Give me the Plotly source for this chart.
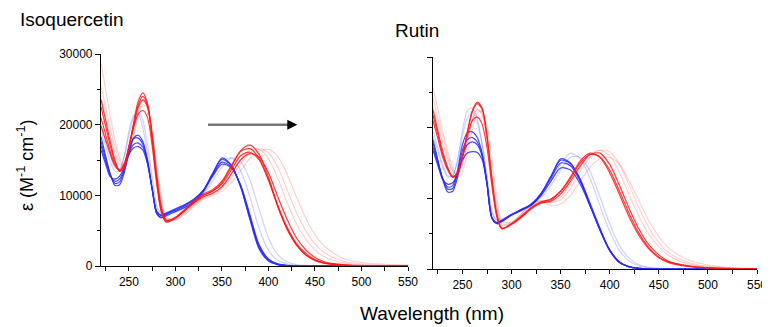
import plotly.graph_objects as go

# Wavelength grid (nm)
wavelength = [220, 225, 230, 235, 240, 245, 250, 255, 260, 265, 270, 275, 280, 285, 290,
              300, 310, 320, 330, 340, 350, 360, 370, 380, 390, 400, 410, 420, 430, 440,
              450, 460, 480, 500, 525, 550]

# Molar absorptivity values in units of 1000 M^-1 cm^-1
# ---- Isoquercetin (left) ----
iso_blue1 = [18.3, 15.6, 13.0, 11.4, 11.5, 13.2, 16.0, 18.1, 18.5, 17.6, 15.0, 11.0, 7.4, 6.8, 7.1,
             7.7, 8.3, 9.1, 10.5, 13.0, 15.3, 14.3, 11.2, 6.6, 2.4, 0.7, 0.2, 0.05, 0, 0, 0, 0, 0, 0, 0, 0]
iso_blue2 = [17.6, 15.2, 12.9, 11.7, 11.9, 13.6, 16.3, 18.0, 18.1, 17.2, 14.8, 10.8, 7.4, 6.9, 7.3,
             7.9, 8.5, 9.3, 10.7, 13.1, 15.1, 14.2, 11.3, 6.8, 2.6, 0.8, 0.2, 0.05, 0, 0, 0, 0, 0, 0, 0, 0]
iso_blue3 = [17.0, 14.8, 12.8, 12.0, 12.3, 13.8, 16.0, 17.2, 17.4, 16.8, 14.6, 10.9, 7.6, 7.1, 7.4,
             8.0, 8.6, 9.4, 10.7, 12.9, 14.7, 14.0, 11.4, 7.0, 2.8, 0.9, 0.25, 0.07, 0, 0, 0, 0, 0, 0, 0, 0]
iso_blue4 = [16.4, 14.4, 12.6, 12.3, 12.7, 14.0, 15.8, 16.7, 16.9, 16.4, 14.4, 10.9, 7.7, 7.2, 7.5,
             8.1, 8.7, 9.5, 10.7, 12.7, 14.4, 13.9, 11.5, 7.3, 3.0, 1.0, 0.3, 0.08, 0, 0, 0, 0, 0, 0, 0, 0]
iso_light1 = [19.2, 17.0, 14.8, 13.4, 13.5, 15.6, 19.0, 21.3, 21.5, 19.5, 15.8, 11.2, 8.0, 7.2, 7.4,
              7.8, 8.3, 9.1, 10.4, 12.6, 14.8, 15.3, 13.5, 9.8, 5.3, 2.2, 0.8, 0.3, 0.1, 0.05, 0, 0, 0, 0, 0, 0]
iso_light2 = [20.0, 17.8, 15.6, 14.0, 13.8, 15.4, 18.5, 21.0, 21.8, 20.6, 17.2, 12.5, 8.6, 7.4, 7.3,
              7.6, 8.2, 9.0, 10.2, 12.0, 14.0, 15.3, 14.8, 12.2, 8.0, 4.0, 1.6, 0.6, 0.2, 0.08, 0.03, 0, 0, 0, 0, 0]
iso_pink1 = [28.7, 25.0, 21.2, 17.8, 15.3, 14.4, 15.6, 18.2, 21.2, 22.8, 22.2, 19.2, 14.2, 9.6, 7.0,
             6.5, 7.3, 8.4, 9.4, 10.0, 10.6, 11.8, 13.5, 15.2, 16.2, 16.5, 15.5, 13.0, 9.8, 6.8,
             4.4, 2.8, 1.1, 0.5, 0.25, 0.15]
iso_pink2 = [25.5, 22.5, 19.4, 16.8, 14.8, 14.2, 15.8, 18.8, 21.8, 23.4, 22.6, 19.0, 13.6, 9.0, 6.8,
             6.6, 7.5, 8.6, 9.6, 10.2, 11.0, 12.5, 14.5, 16.0, 16.6, 16.0, 14.0, 10.8, 7.6, 5.0,
             3.1, 1.9, 0.7, 0.3, 0.12, 0.06]
iso_pink3 = [24.0, 21.2, 18.4, 16.0, 14.4, 14.2, 16.0, 19.2, 22.2, 23.6, 22.6, 18.6, 13.0, 8.6, 6.6,
             6.6, 7.6, 8.7, 9.7, 10.3, 11.3, 13.0, 15.0, 16.4, 16.5, 15.2, 12.4, 9.0, 6.0, 3.8,
             2.3, 1.3, 0.45, 0.18, 0.07, 0.03]
iso_red1 = [23.5, 20.6, 17.6, 15.0, 13.4, 13.8, 16.5, 20.2, 23.3, 24.5, 23.0, 18.0, 11.8, 7.6, 6.2,
            6.8, 7.9, 9.0, 10.0, 10.6, 11.8, 14.0, 16.3, 17.1, 15.8, 12.6, 8.5, 5.3, 3.0, 1.6,
            0.8, 0.4, 0.12, 0.04, 0, 0]
iso_red2 = [22.5, 19.8, 17.0, 14.7, 13.5, 14.2, 16.8, 20.0, 22.8, 24.0, 22.8, 18.2, 12.2, 7.9, 6.4,
            6.9, 8.0, 9.2, 10.2, 10.8, 12.0, 14.2, 16.2, 16.6, 15.2, 12.2, 8.4, 5.2, 3.0, 1.6,
            0.8, 0.4, 0.12, 0.04, 0, 0]
iso_red3 = [21.0, 18.6, 16.2, 14.4, 13.6, 14.5, 17.0, 19.6, 21.5, 22.0, 21.0, 17.0, 11.5, 7.6, 6.3,
            6.8, 7.9, 9.0, 10.0, 10.6, 11.6, 13.6, 15.6, 16.1, 15.0, 12.2, 8.6, 5.5, 3.2, 1.8,
            0.9, 0.45, 0.14, 0.05, 0, 0]
iso_red4 = [19.8, 17.8, 15.8, 14.2, 13.5, 14.4, 16.8, 19.8, 22.5, 23.5, 22.5, 18.5, 12.8, 8.3, 6.5,
            6.8, 7.8, 8.9, 9.8, 10.3, 11.2, 13.0, 15.0, 15.9, 15.4, 13.2, 9.8, 6.6, 4.0, 2.3,
            1.2, 0.6, 0.2, 0.06, 0.02, 0]

# ---- Rutin (right) ----
rut_blue1 = [18.3, 15.4, 12.6, 10.9, 11.0, 13.0, 16.0, 17.6, 18.0, 17.6, 16.0, 12.0, 7.2, 6.4, 6.7,
             7.6, 8.3, 9.0, 10.6, 13.0, 15.6, 15.0, 12.6, 9.0, 5.5, 2.6, 0.9, 0.3, 0.1, 0.03, 0, 0, 0, 0, 0, 0]
rut_blue2 = [16.8, 14.6, 12.6, 12.0, 12.2, 13.4, 15.4, 16.4, 16.6, 16.5, 15.5, 12.0, 7.3, 6.6, 6.9,
             7.7, 8.4, 9.1, 10.4, 12.4, 14.3, 14.0, 12.0, 8.9, 5.6, 2.7, 1.0, 0.3, 0.1, 0.03, 0, 0, 0, 0, 0, 0]
rut_blue3 = [17.2, 15.0, 12.8, 11.6, 11.8, 14.0, 17.6, 19.3, 19.4, 18.6, 16.4, 12.2, 7.2, 6.5, 6.8,
             7.7, 8.4, 9.1, 10.6, 12.8, 15.0, 14.6, 12.4, 9.0, 5.6, 2.6, 0.9, 0.3, 0.1, 0.03, 0, 0, 0, 0, 0, 0]
rut_blue4 = [17.8, 15.2, 12.7, 11.3, 11.4, 13.5, 16.8, 18.3, 18.6, 18.0, 16.2, 12.1, 7.3, 6.5, 6.8,
             7.7, 8.4, 9.2, 10.7, 13.1, 15.4, 14.9, 12.7, 9.3, 5.8, 2.7, 1.0, 0.3, 0.1, 0.03, 0, 0, 0, 0, 0, 0]
rut_light1 = [19.5, 17.2, 14.8, 13.2, 13.2, 15.6, 19.6, 22.4, 22.8, 21.2, 17.8, 13.0, 8.0, 6.8, 6.9,
              7.6, 8.2, 9.0, 10.3, 12.4, 14.8, 16.4, 15.6, 12.8, 9.0, 5.3, 2.6, 1.1, 0.45, 0.18,
              0.07, 0.03, 0, 0, 0, 0]
rut_light2 = [18.8, 16.6, 14.4, 13.0, 13.2, 15.2, 18.8, 21.4, 22.0, 20.8, 17.6, 13.0, 8.2, 7.0, 7.1,
              7.7, 8.3, 9.0, 10.1, 11.8, 14.0, 15.8, 15.8, 13.8, 10.2, 6.4, 3.3, 1.5, 0.6, 0.25,
              0.1, 0.04, 0, 0, 0, 0]
rut_pink1 = [25.6, 22.6, 19.4, 16.6, 14.4, 13.0, 13.8, 16.4, 19.6, 22.0, 22.4, 20.2, 15.4, 10.2, 6.8,
             6.6, 7.8, 9.2, 9.6, 9.0, 9.2, 10.4, 12.4, 14.4, 15.6, 15.8, 14.8, 12.4, 9.6, 6.8,
             4.6, 3.0, 1.3, 0.55, 0.2, 0.08]
rut_pink2 = [24.2, 21.4, 18.6, 16.0, 14.0, 13.4, 14.8, 17.8, 21.0, 22.6, 22.0, 18.8, 13.6, 8.8, 6.4,
             6.6, 7.8, 9.2, 9.7, 9.4, 9.8, 11.4, 13.8, 15.8, 16.8, 16.6, 14.8, 11.8, 8.6, 5.8,
             3.7, 2.3, 0.9, 0.35, 0.12, 0.05]
rut_pink3 = [23.0, 20.4, 17.8, 15.6, 13.8, 13.4, 15.0, 18.0, 21.0, 22.6, 21.8, 18.4, 13.2, 8.6, 6.2,
             6.5, 7.6, 8.9, 9.5, 9.5, 10.2, 12.0, 14.4, 16.2, 16.8, 16.0, 13.6, 10.4, 7.4, 4.9,
             3.1, 1.9, 0.7, 0.28, 0.1, 0.04]
rut_red1 = [22.5, 19.5, 16.6, 14.4, 13.0, 13.4, 15.8, 19.2, 22.2, 23.4, 22.6, 18.6, 12.4, 7.6, 5.7,
            6.4, 7.4, 8.6, 9.4, 9.8, 11.0, 13.0, 15.3, 16.4, 15.8, 13.6, 10.5, 7.3, 4.7, 2.8,
            1.6, 0.9, 0.35, 0.15, 0.05, 0.02]
rut_red2 = [21.0, 18.4, 15.8, 14.0, 13.0, 13.6, 15.8, 18.8, 21.0, 21.5, 20.5, 17.2, 11.8, 7.4, 5.7,
            6.4, 7.5, 8.7, 9.5, 9.9, 11.0, 12.8, 15.0, 16.2, 15.9, 14.0, 11.0, 7.8, 5.0, 3.0,
            1.7, 1.0, 0.4, 0.15, 0.05, 0.02]
rut_red3 = [21.8, 19.0, 16.2, 14.2, 13.1, 13.6, 16.0, 19.4, 22.4, 23.6, 22.8, 19.0, 12.8, 7.8, 5.8,
            6.3, 7.3, 8.5, 9.3, 9.6, 10.6, 12.4, 14.6, 16.2, 16.4, 14.8, 11.8, 8.5, 5.6, 3.4,
            2.0, 1.1, 0.45, 0.18, 0.06, 0.02]

UNIT = 1000  # values above are in 10^3 M^-1 cm^-1

DARK_BLUE = "rgba(40,40,250,0.85)"
LIGHT_BLUE = "rgba(90,90,255,0.28)"
PINK = "rgba(255,70,70,0.25)"
RED = "rgba(255,25,25,0.85)"

iso_series = [(iso_pink1, PINK), (iso_pink2, PINK), (iso_pink3, PINK),
              (iso_light1, LIGHT_BLUE), (iso_light2, LIGHT_BLUE),
              (iso_blue1, DARK_BLUE), (iso_blue2, DARK_BLUE), (iso_blue3, DARK_BLUE), (iso_blue4, DARK_BLUE),
              (iso_red1, RED), (iso_red2, RED), (iso_red3, RED), (iso_red4, RED)]
rut_series = [(rut_pink1, PINK), (rut_pink2, PINK), (rut_pink3, PINK),
              (rut_light1, LIGHT_BLUE), (rut_light2, LIGHT_BLUE),
              (rut_blue1, DARK_BLUE), (rut_blue2, DARK_BLUE), (rut_blue3, DARK_BLUE), (rut_blue4, DARK_BLUE),
              (rut_red1, RED), (rut_red2, RED), (rut_red3, RED)]

fig = go.Figure()
for vals, col in iso_series:
    fig.add_trace(go.Scatter(x=wavelength, y=[v * UNIT for v in vals], mode="lines",
                             line=dict(color=col, width=1.2, shape="spline", smoothing=0.8),
                             xaxis="x", yaxis="y", showlegend=False, hoverinfo="skip"))
for vals, col in rut_series:
    fig.add_trace(go.Scatter(x=wavelength, y=[v * UNIT for v in vals], mode="lines",
                             line=dict(color=col, width=1.2, shape="spline", smoothing=0.8),
                             xaxis="x2", yaxis="y2", showlegend=False, hoverinfo="skip"))

FONT = "Arial, Liberation Sans, sans-serif"
# the page body has an 8px default margin; size the figure so it fills the 770x327 window
OFF = 8
W, H = 770 - OFF, 327 - OFF


def px(x):
    return (x - OFF) / W


def py(y):
    return 1 - (y - OFF) / H


xcommon = dict(range=[220, 550], tickvals=[250, 300, 350, 400, 450, 500, 550],
               ticks="outside", ticklen=4, tickwidth=1, tickcolor="black",
               minor=dict(dtick=25, tick0=0, ticks="outside", ticklen=4, tickcolor="black"),
               showline=True, linecolor="black", linewidth=1.2, showgrid=False, zeroline=False,
               automargin=False,
               tickfont=dict(family=FONT, size=12, color="black"), fixedrange=True)
ycommon = dict(range=[0, 30000], tickvals=[0, 10000, 20000, 30000], tickformat="d",
               ticks="outside", ticklen=5, tickcolor="black",
               minor=dict(dtick=5000, ticks="outside", ticklen=3, tickcolor="black"),
               showline=True, linecolor="black", linewidth=1.2, showgrid=False, zeroline=False,
               automargin=False,
               tickfont=dict(family=FONT, size=12, color="black"), fixedrange=True)

fig.update_layout(
    width=W, height=H,
    margin=dict(l=0, r=0, t=0, b=0, autoexpand=False),
    paper_bgcolor="white", plot_bgcolor="white",
    font=dict(family=FONT, color="black"),
    xaxis=dict(domain=[px(101), px(408)], anchor="y", **xcommon),
    xaxis2=dict(domain=[px(433), px(757)], anchor="y2", **xcommon),
    yaxis=dict(domain=[py(266), py(54)], anchor="x", **ycommon),
    yaxis2=dict(domain=[py(269), py(57)], anchor="x2", showticklabels=False, **ycommon),
)

fig.add_shape(type="line", xref="x", yref="y", x0=335, x1=424, y0=20000, y1=20000,
              line=dict(color="#777777", width=2.5))

annotations = [
    dict(x=431, y=20000, ax=420, ay=20000, xref="x", yref="y", axref="x", ayref="y",
         showarrow=True, arrowhead=2, arrowsize=1, arrowwidth=2, arrowcolor="black", text=""),
    dict(text="Isoquercetin", x=px(18), y=py(20), xref="paper", yref="paper",
         xanchor="left", yanchor="middle", showarrow=False, font=dict(size=19, family=FONT)),
    dict(text="Rutin", x=px(417), y=py(30), xref="paper", yref="paper",
         xanchor="center", yanchor="middle", showarrow=False, font=dict(size=19, family=FONT)),
    dict(text="Wavelength (nm)", x=px(432), y=py(313), xref="paper", yref="paper",
         xanchor="center", yanchor="middle", showarrow=False, font=dict(size=19, family=FONT)),
    dict(text="\u03b5 (M<sup>-1</sup> cm<sup>-1</sup>)", x=px(26), y=py(166),
         xref="paper", yref="paper", xanchor="center", yanchor="middle", textangle=-90,
         showarrow=False, font=dict(size=18, family=FONT)),
]
fig.update_layout(annotations=annotations)

fig.write_html("out.html")
